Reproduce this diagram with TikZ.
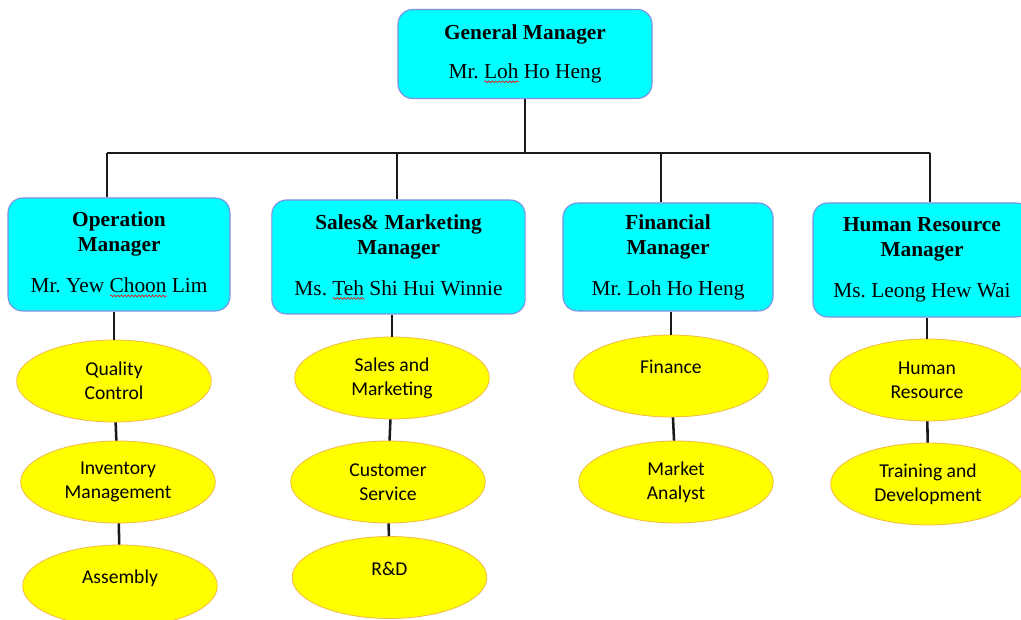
\documentclass[tikz,border=0pt]{standalone}
\usepackage{fontspec}
\setmainfont{Liberation Serif}
\newfontfamily\calibri{Carlito}
\usetikzlibrary{shapes.geometric, decorations.pathmorphing}
\definecolor{boxblue}{RGB}{0,255,255}
\definecolor{boxedge}{RGB}{128,140,225}
\definecolor{ovalfill}{RGB}{255,255,0}
\definecolor{ovaledge}{RGB}{240,185,70}
\frenchspacing
\newsavebox\markbox
\newcommand\spellmark[1]{\leavevmode\sbox\markbox{#1}%
  \rlap{\tikz[baseline=0pt]\draw[red, sharp corners, line width=0.45pt, decorate,
    decoration={snake, amplitude=0.7pt, segment length=2.6pt}] (0pt,-2.5pt) -- (\wd\markbox,-2.5pt);}%
  \usebox\markbox}
\begin{document}
\begin{tikzpicture}[x=0.75pt, y=-0.75pt,
    boss/.style={rectangle, rounded corners=11pt, draw=boxedge, line width=0.8pt, fill=boxblue,
      align=center, inner sep=2pt, font=\fontsize{16}{18.75}\selectfont},
    unit/.style={ellipse, draw=ovaledge, line width=0.6pt, fill=ovalfill, align=center, inner sep=0pt,
      minimum width=146pt, minimum height=61.5pt, font=\calibri\fontsize{14.7}{18}\selectfont},
    oneline/.style={text height=10pt, text depth=13.5pt},
    link/.style={line width=1.9pt, black!90}]
  \useasboundingbox (0,0) rectangle (1021,620);

  % --- Top: general manager ---
  \node[boss, minimum width=190.5pt, minimum height=66.75pt] (gm) at (525,54)
    {\textbf{General Manager}\\[10.25pt]Mr. \spellmark{Loh} Ho Heng};

  % --- Bus line under the general manager ---
  \coordinate (b1) at (107,153);
  \coordinate (b2) at (397,153);
  \coordinate (b3) at (661,153);
  \coordinate (b4) at (930,153);
  \draw[link] (gm.south) -- (gm.south |- b1);
  \draw[link] (b1) -- (b4);

  % --- Second row: managers ---
  \node[boss, minimum width=166.5pt, minimum height=84.75pt] (opm) at (119,254.5)
    {\textbf{Operation}\\\textbf{Manager}\\[12pt]Mr. Yew \spellmark{Choon} Lim};
  \node[boss, minimum width=190pt, minimum height=85.5pt] (smm) at (398.5,257)
    {\textbf{Sales\& Marketing}\\\textbf{Manager}\\[12pt]Ms. \spellmark{Teh} Shi Hui Winnie};
  \node[boss, minimum width=157.5pt, minimum height=81pt] (fm) at (668,257)
    {\textbf{Financial}\\\textbf{Manager}\\[12pt]Mr. Loh Ho Heng};
  \node[boss, minimum width=163.5pt, minimum height=85.5pt] (hrm) at (922,260)
    {\textbf{Human Resource}\\\textbf{Manager}\\[12pt]Ms. Leong Hew Wai};
  \draw[link] (b1) -- (b1 |- opm.north);
  \draw[link] (b2) -- (b2 |- smm.north);
  \draw[link] (b3) -- (b3 |- fm.north);
  \draw[link] (b4) -- (b4 |- hrm.north);

  % --- Operation units ---
  \node[unit] (qc) at (114,381) {Quality\\Control};
  \node[unit] (inv) at (118,482) {Inventory\\Management};
  \node[unit, oneline] (asm) at (120,586) {Assembly};
  \draw[link] (qc.north) -- (qc.north |- opm.south);
  \draw[link] (qc) -- (inv);
  \draw[link] (inv) -- (asm);

  % --- Sales & marketing units ---
  \node[unit] (sm) at (392,378) {Sales and\\Marketing};
  \node[unit] (cs) at (388,482) {Customer\\Service};
  \node[unit, oneline] (rd) at (389.5,577.5) {R\&D};
  \draw[link] (sm.north) -- (sm.north |- smm.south);
  \draw[link] (sm) -- (cs);
  \draw[link] (cs) -- (rd);

  % --- Financial units ---
  \node[unit, oneline] (fin) at (671,376) {Finance};
  \node[unit] (ma) at (676,482) {Market\\Analyst};
  \draw[link] (fin.north) -- (fin.north |- fm.south);
  \draw[link] (fin) -- (ma);

  % --- Human resource units ---
  \node[unit] (hr) at (927,380) {Human\\Resource};
  \node[unit] (td) at (928,484) {Training and\\Development};
  \draw[link] (hr.north) -- (hr.north |- hrm.south);
  \draw[link] (hr) -- (td);
\end{tikzpicture}
\end{document}
